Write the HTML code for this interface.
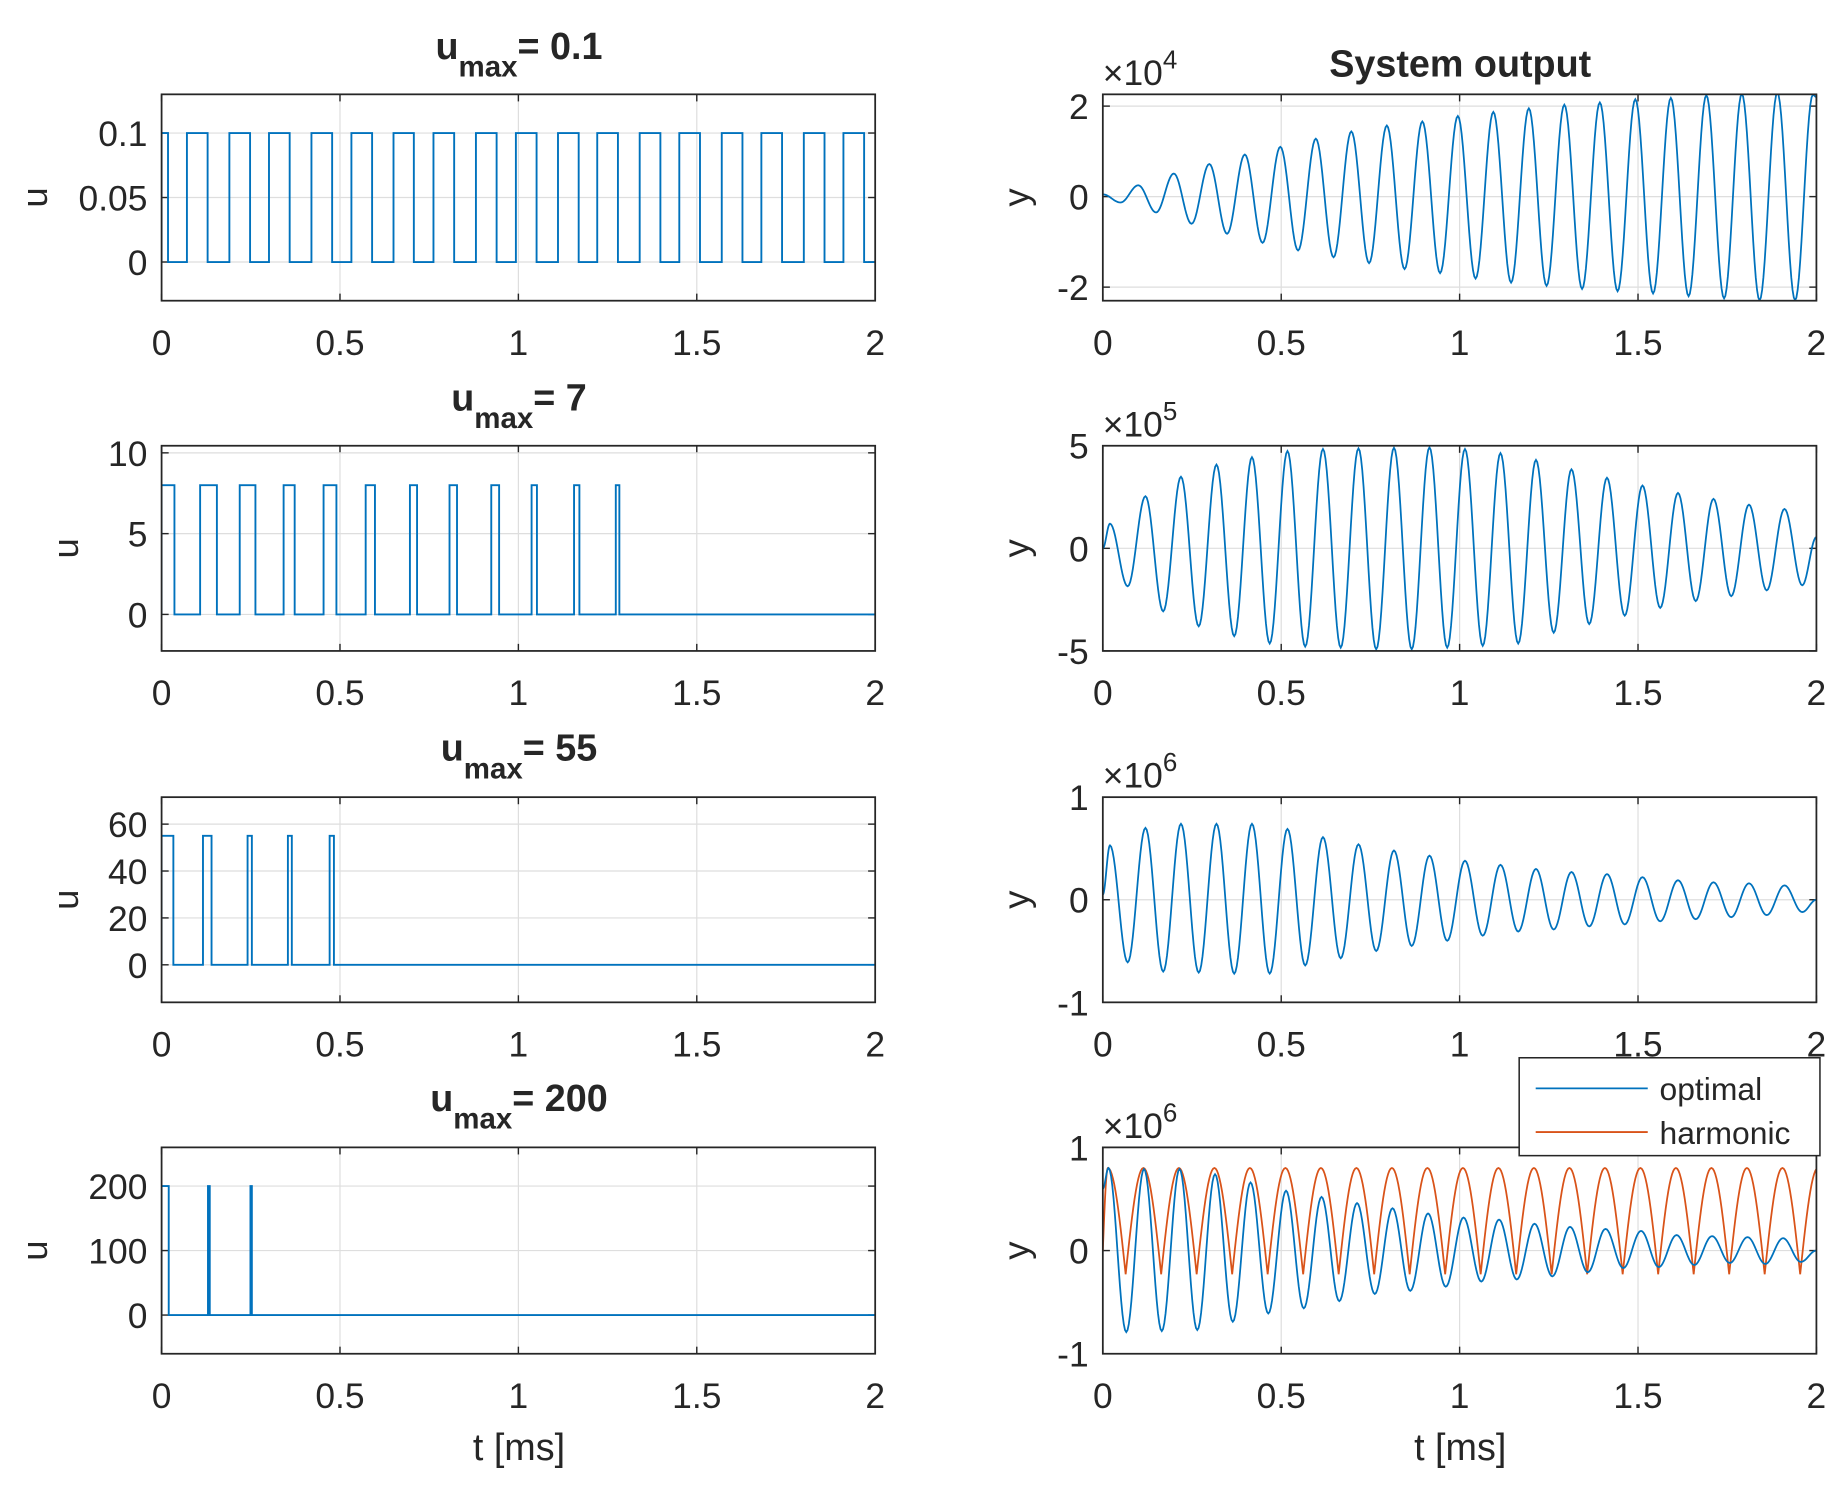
<!DOCTYPE html>
<html><head><meta charset="utf-8"><style>
html,body{margin:0;padding:0;background:#fff}
svg{display:block}
text{font-family:"Liberation Sans",sans-serif;fill:#262626}
</style></head><body>
<svg id="fig" width="1840" height="1487" viewBox="0 0 1560 1261" preserveAspectRatio="none" xmlns="http://www.w3.org/2000/svg"></svg>
<script>
// ---- data: input pulses (on/off times in ms) ----
const pulseOn1 = [0,0.071,0.190,0.301,0.420,0.532,0.650,0.762,0.881,0.993,1.111,1.221,1.340,1.451,1.570,1.681,1.800,1.911];
const pulseOff1 = [0.018,0.129,0.248,0.359,0.478,0.590,0.707,0.820,0.939,1.051,1.169,1.279,1.398,1.509,1.628,1.739,1.858,1.969];
const pulseOn2 = [0,0.108,0.219,0.342,0.454,0.572,0.696,0.807,0.924,1.037,1.156,1.273];
const pulseOff2 = [0.036,0.155,0.263,0.373,0.490,0.598,0.716,0.828,0.946,1.052,1.171,1.283];
const pulseOn3 = [0,0.116,0.241,0.354,0.471];
const pulseOff3 = [0.033,0.140,0.253,0.365,0.483];
const pulseOn4 = [0,0.130,0.249];
const pulseOff4 = [0.020,0.135,0.253];
const uLevels = [0.1, 8, 55, 200];
// ---- data: output extrema (peaks / troughs) ----
const period = 0.0995;
const firstPeak = [0.0, 0.020, 0.020, 0.016];
const peaks1 = [0.1,0.25,0.51,0.72,0.93,1.10,1.28,1.44,1.57,1.66,1.78,1.87,1.95,2.03,2.08,2.15,2.18,2.24,2.27,2.30,2.25];
const troughs1 = [-0.13,-0.35,-0.60,-0.82,-1.02,-1.19,-1.34,-1.47,-1.60,-1.69,-1.81,-1.90,-1.97,-2.04,-2.09,-2.14,-2.20,-2.25,-2.29,-2.29];
const peaks2 = [1.2,2.54,3.49,4.08,4.44,4.74,4.84,4.87,4.9,4.92,4.84,4.64,4.31,3.85,3.44,3.06,2.7,2.41,2.13,1.92];
const troughs2 = [-1.85,-3.07,-3.8,-4.28,-4.64,-4.79,-4.84,-4.92,-4.92,-4.84,-4.75,-4.64,-4.11,-3.69,-3.28,-2.9,-2.57,-2.33,-2.05,-1.8];
const peaks3 = [0.53,0.70,0.74,0.74,0.74,0.69,0.61,0.54,0.48,0.43,0.38,0.34,0.30,0.27,0.25,0.22,0.19,0.17,0.16,0.14];
const troughs3 = [-0.61,-0.70,-0.71,-0.72,-0.72,-0.64,-0.57,-0.50,-0.45,-0.40,-0.35,-0.31,-0.29,-0.26,-0.24,-0.21,-0.19,-0.17,-0.15,-0.12];
const peaks4 = [0.80,0.79,0.79,0.74,0.66,0.58,0.52,0.46,0.41,0.36,0.32,0.30,0.26,0.23,0.21,0.19,0.15,0.14,0.13,0.12];
const troughs4 = [-0.79,-0.78,-0.77,-0.69,-0.61,-0.56,-0.49,-0.42,-0.39,-0.35,-0.30,-0.28,-0.25,-0.21,-0.17,-0.16,-0.14,-0.12,-0.13,-0.11];
const startVals = [0.05, 0.0, 0.05, 0.6];
const endVals = [2.2, 0.55, 0.0, 0.0];
const harmPeak = 0.80;
const harmTrough = -0.23;
const harmFirstTrough = 0.064;
const xTicks = [0,0.5,1,1.5,2];
const xTickLabels = ["0","0.5","1","1.5","2"];
const leftYTicks = [[0,0.05,0.1],[0,5,10],[0,20,40,60],[0,100,200]];
const leftYLabels = [["0","0.05","0.1"],["0","5","10"],["0","20","40","60"],["0","100","200"]];
const leftYLim = [[-0.03,0.13],[-2.26,10.44],[-16,71.5],[-60,260]];
const rightYTicks = [[-2,0,2],[-5,0,5],[-1,0,1],[-1,0,1]];
const rightYLabels = [["-2","0","2"],["-5","0","5"],["-1","0","1"],["-1","0","1"]];
const rightYLim = [[-2.3,2.26],[-5,5],[-1,1],[-1,1]];
const exponents = ["4","5","6","6"];
const titles = ["0.1","7","55","200"];

const NS="http://www.w3.org/2000/svg";
const svg=document.getElementById('fig');
function el(tag,attrs,parent){const e=document.createElementNS(NS,tag);for(const k in attrs)e.setAttribute(k,attrs[k]);(parent||svg).appendChild(e);return e;}
const rowTop=[80,378,676,973], rowBot=[255,552,850,1148];
const colL=[137,935], colR=[742,1540];
const uLabelX=[40,66,66,40];
const BLUE="#0072BD", ORANGE="#D95319";
const FS=30;

function makeAxes(col,row,ylim,yt,ylab,name){
  const x0=colL[col],x1=colR[col],y0=rowTop[row],y1=rowBot[row];
  const sx=t=>x0+(t-0)/(2-0)*(x1-x0);
  const sy=v=>y1-(v-ylim[0])/(ylim[1]-ylim[0])*(y1-y0);
  const g=el('g',{});
  
  
  el('rect',{x:x0,y:y0,width:x1-x0,height:y1-y0,fill:'#fff'},g);
  xTicks.forEach((t,i)=>{
    const gl=el('line',{x1:sx(t),x2:sx(t),y1:y0,y2:y1,stroke:'#dedede','stroke-width':1},g);
    
    
    el('line',{x1:sx(t),x2:sx(t),y1:y1,y2:y1-6,stroke:'#262626','stroke-width':1.2},g);
    el('line',{x1:sx(t),x2:sx(t),y1:y0,y2:y0+6,stroke:'#262626','stroke-width':1.2},g);
    const tx=el('text',{x:sx(t),y:y1+46,'font-size':FS,'text-anchor':'middle'},g);
    tx.textContent=xTickLabels[i];
    
    
  });
  yt.forEach((v,i)=>{
    const gl=el('line',{x1:x0,x2:x1,y1:sy(v),y2:sy(v),stroke:'#dedede','stroke-width':1},g);
    
    
    el('line',{x1:x0,x2:x0+6,y1:sy(v),y2:sy(v),stroke:'#262626','stroke-width':1.2},g);
    el('line',{x1:x1,x2:x1-6,y1:sy(v),y2:sy(v),stroke:'#262626','stroke-width':1.2},g);
    const tx=el('text',{x:x0-12,y:sy(v)+11,'font-size':FS,'text-anchor':'end'},g);
    tx.textContent=ylab[i];
    
    
  });
  const cid='clip'+col+row;
  const cp=el('clipPath',{id:cid},g);
  el('rect',{x:x0,y:y0,width:x1-x0,height:y1-y0},cp);
  const plot=el('g',{'clip-path':'url(#'+cid+')'},g);
  return {g,plot,sx,sy,x0,x1,y0,y1};
}
function frame(ax){
  const f=el('rect',{x:ax.x0,y:ax.y0,width:ax.x1-ax.x0,height:ax.y1-ax.y0,fill:'none',stroke:'#262626','stroke-width':1.5},ax.g);
  
  
}
function pulsePath(ax,on,off,level){
  let d='M'+ax.sx(0)+','+ax.sy(0);
  on.forEach((t,i)=>{
    d+=' L'+ax.sx(t)+','+ax.sy(0)+' L'+ax.sx(t)+','+ax.sy(level)+' L'+ax.sx(off[i])+','+ax.sy(level)+' L'+ax.sx(off[i])+','+ax.sy(0);
  });
  d+=' L'+ax.sx(2)+','+ax.sy(0);
  return d;
}
function extremaPath(ax,knots,shapeFn){
  let d='M'+ax.sx(knots[0][0])+','+ax.sy(knots[0][1]);
  for(let i=1;i<knots.length;i++){
    const [ta,va]=knots[i-1],[tb,vb]=knots[i];
    const n=14;
    for(let j=1;j<=n;j++){
      const s=j/n;const w=shapeFn?shapeFn(s,va,vb):(1-Math.cos(Math.PI*s))/2;
      d+=' L'+ax.sx(ta+(tb-ta)*s).toFixed(2)+','+ax.sy(va+(vb-va)*w).toFixed(2);
    }
  }
  return d;
}
function titleText(x,y,val,name){
  const t=el('text',{x:x,y:y,'font-size':32,'font-weight':'bold','text-anchor':'middle'});
  
  
  const a=el('tspan',{},t);a.textContent='u';
  const b=el('tspan',{dy:15,'font-size':25},t);b.textContent='max';
  const c=el('tspan',{dy:-15},t);c.textContent='= '+val;
}
const pulseOns=[pulseOn1,pulseOn2,pulseOn3,pulseOn4], pulseOffs=[pulseOff1,pulseOff2,pulseOff3,pulseOff4];
const peaksAll=[peaks1,peaks2,peaks3,peaks4], troughsAll=[troughs1,troughs2,troughs3,troughs4];
const titleY=[50,348,645,942];

for(let r=0;r<4;r++){
  const L=makeAxes(0,r,leftYLim[r],leftYTicks[r],leftYLabels[r],'input-axes-'+(r+1));
  const p=el('path',{d:pulsePath(L,pulseOns[r],pulseOffs[r],uLevels[r]),fill:'none',stroke:BLUE,'stroke-width':1.6},L.plot);
  
  
  frame(L);
  const ul=el('text',{x:0,y:0,'font-size':31,'text-anchor':'middle',transform:'translate('+uLabelX[r]+','+((L.y0+L.y1)/2)+') rotate(-90)'});
  ul.textContent='u';
  
  
  titleText(440,titleY[r],titles[r],'subplot-title-'+(r+1));
  const R=makeAxes(1,r,rightYLim[r],rightYTicks[r],rightYLabels[r],'output-axes-'+(r+1));
  const knots=[[0,startVals[r]]];
  const pk=peaksAll[r],tr=troughsAll[r];
  for(let k=0;k<pk.length;k++){
    const tp=firstPeak[r]+k*period;
    if(tp>0)knots.push([tp,pk[k]]);
    if(k<tr.length)knots.push([tp+period/2,tr[k]]);
  }
  knots.push([2.0,endVals[r]]);
  if(r===3){
    const hk=[[0,0],[harmFirstTrough-period/2,harmPeak]];
    for(let k=0;k<21;k++){const tt=harmFirstTrough+k*period;hk.push([tt,harmTrough]);hk.push([tt+period/2,harmPeak]);}
    const hp=el('path',{d:extremaPath(R,hk,(s,va,vb)=>vb>va?Math.sin(Math.PI/2*s):1-Math.cos(Math.PI/2*s)),fill:'none',stroke:ORANGE,'stroke-width':1.5},R.plot);
    
    
  }
  const op=el('path',{d:extremaPath(R,knots),fill:'none',stroke:BLUE,'stroke-width':1.5},R.plot);
  
  
  frame(R);
  const yl=el('text',{x:0,y:0,'font-size':31,'text-anchor':'middle',transform:'translate(872,'+((R.y0+R.y1)/2)+') rotate(-90)'});
  yl.textContent='y';
  
  
  const ex=el('text',{x:935,y:R.y0-8,'font-size':30});
  
  
  const e1=el('tspan',{},ex);e1.textContent='\u00d710';
  const e2=el('tspan',{dy:-14,'font-size':22},ex);e2.textContent=exponents[r];
}
const st=el('text',{x:1238,y:65,'font-size':32,'font-weight':'bold','text-anchor':'middle'});
st.textContent='System output';


[440,1238].forEach(x=>{
  const t=el('text',{x:x,y:1238,'font-size':32,'text-anchor':'middle'});
  t.textContent='t [ms]';
  
  
});
const lg=el('g',{});


el('rect',{x:1288,y:897,width:255,height:83,fill:'#fff',stroke:'#262626','stroke-width':1.3},lg);
[['optimal',BLUE,923],['harmonic',ORANGE,960]].forEach(([lab,c,y])=>{
  const e=el('g',{},lg);
  
  
  el('line',{x1:1302,x2:1397,y1:y,y2:y,stroke:c,'stroke-width':1.5},e);
  const t=el('text',{x:1407,y:y+10,'font-size':27},e);t.textContent=lab;
});
</script>
</body></html>
